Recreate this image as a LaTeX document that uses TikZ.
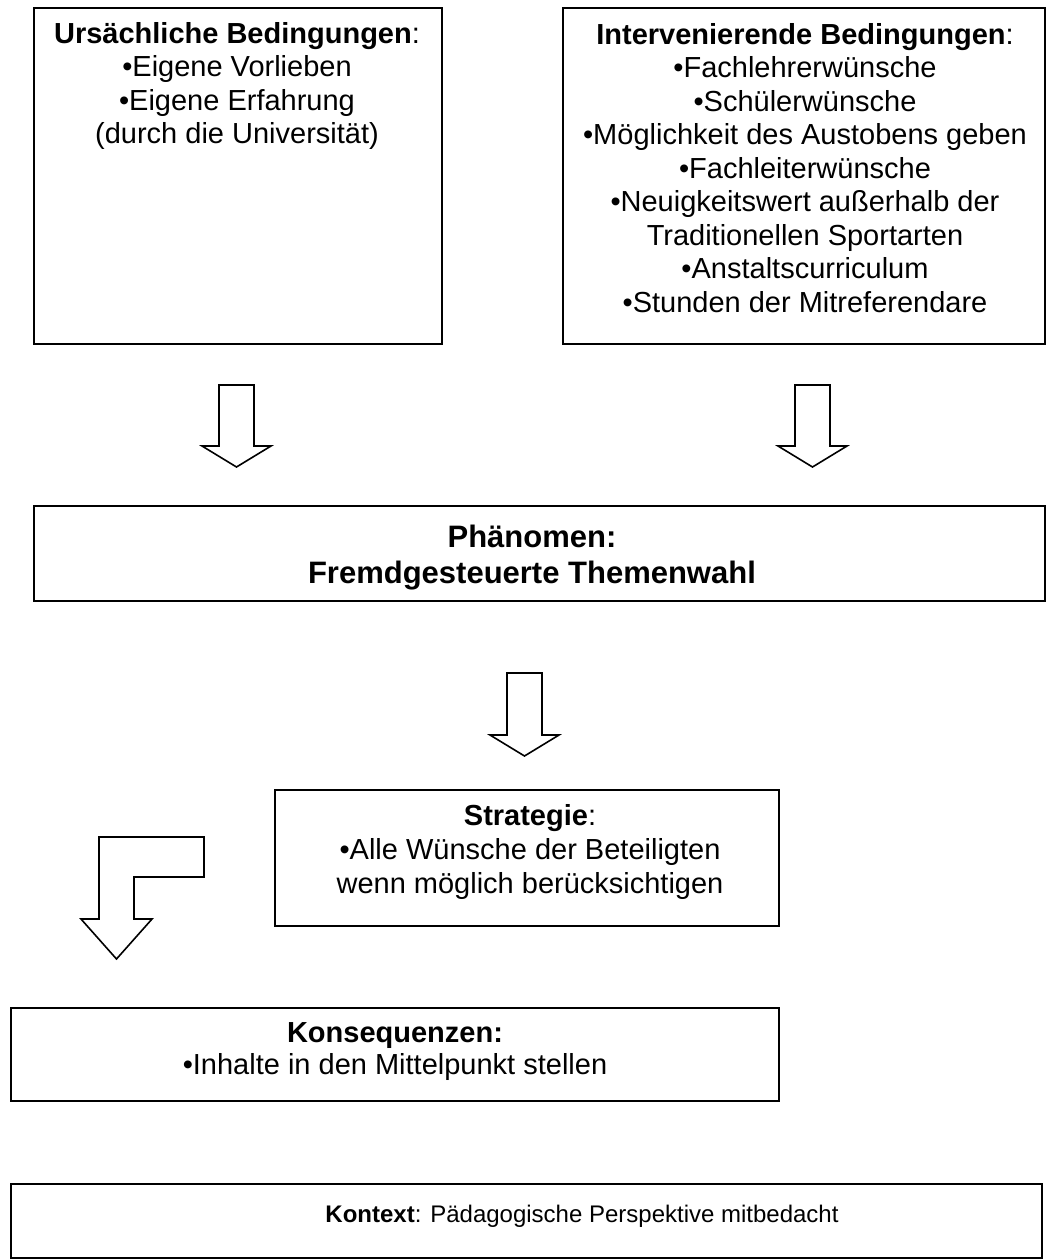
\documentclass[tikz,border=0pt]{standalone}
\usepackage{fontspec}
\setmainfont{Liberation Sans}
\begin{document}
\begin{tikzpicture}[x=1pt,y=-1pt,
  box/.style={draw, line width=1.6pt, anchor=north west, inner sep=0pt},
  txt/.style={anchor=north, inner sep=0pt, align=center, font=\fontsize{29}{33.5}\selectfont},
  barrow/.style={draw, line width=1.6pt, line join=miter, fill=white}]
\useasboundingbox (0,0) rectangle (1046,1259);
% boxes
\node[box, minimum width=408pt, minimum height=336pt] (ursachen) at (33,7) {};
\node[box, minimum width=482pt, minimum height=336pt] (interv) at (562,7) {};
\node[box, minimum width=1011pt, minimum height=95pt] (phaen) at (33,505) {};
\node[box, minimum width=504pt, minimum height=136pt] (strat) at (274,789) {};
\node[box, minimum width=768pt, minimum height=93pt] (konseq) at (10,1007) {};
\node[box, minimum width=1031pt, minimum height=74pt] (kontext) at (10,1183) {};
% texts
\node[txt] (tursachen) at (237,22.2) {\textbf{Ursächliche Bedingungen}:\\•Eigene Vorlieben\\•Eigene Erfahrung\\(durch die Universität)};
\node[txt] (tinterv) at (805,23.2) {\textbf{Intervenierende Bedingungen}:\\•Fachlehrerwünsche\\•Schülerwünsche\\•Möglichkeit des Austobens geben\\•Fachleiterwünsche\\•Neuigkeitswert außerhalb der\\Traditionellen Sportarten\\•Anstaltscurriculum\\•Stunden der Mitreferendare};
\node[txt, font=\fontsize{31}{36}\selectfont\bfseries] (tphaen) at (532,524.8) {Phänomen:\\Fremdgesteuerte Themenwahl};
\node[txt, font=\fontsize{29}{34}\selectfont] (tstrat) at (530,804.2) {\textbf{Strategie}:\\•Alle Wünsche der Beteiligten\\wenn möglich berücksichtigen};
\node[txt, font=\fontsize{29}{32}\selectfont] (tkonseq) at (395,1022.2) {\textbf{Konsequenzen:}\\•Inhalte in den Mittelpunkt stellen};
\node[txt, font=\fontsize{24}{28}\selectfont] (tkontext) at (582,1204.8) {\textbf{Kontext}: Pädagogische Perspektive mitbedacht};
% block arrows
\draw[barrow] (219,385) -- (254,385) -- (254,446) -- (271,446) -- (236.5,467) -- (202,446) -- (219,446) -- cycle;
\draw[barrow] (795,385) -- (830,385) -- (830,446) -- (847,446) -- (812.5,467) -- (778,446) -- (795,446) -- cycle;
\draw[barrow] (507,673) -- (542,673) -- (542,735) -- (559,735) -- (524.5,756) -- (490,735) -- (507,735) -- cycle;
\draw[barrow] (99,837) -- (204,837) -- (204,877) -- (134,877) -- (134,919) -- (152,919) -- (116.5,959) -- (81,919) -- (99,919) -- cycle;
\end{tikzpicture}
\end{document}
